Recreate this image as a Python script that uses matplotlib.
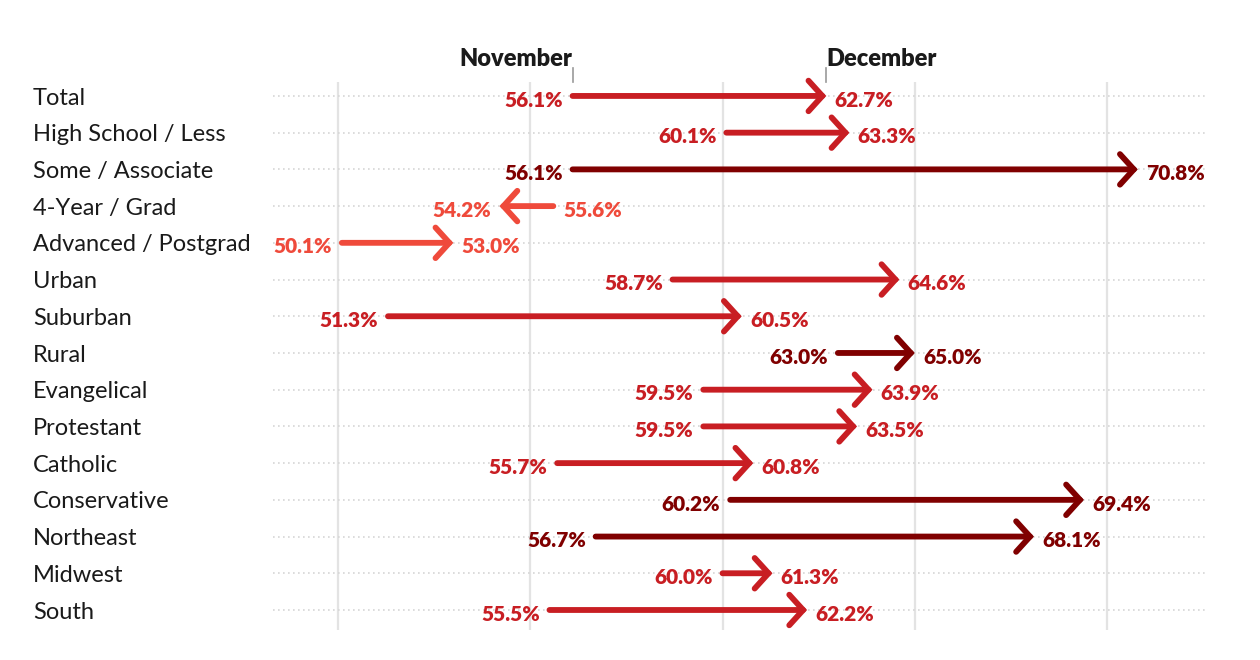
import matplotlib.pyplot as plt

groups = ["Total", "High School / Less", "Some / Associate", "4-Year / Grad",
          "Advanced / Postgrad", "Urban", "Suburban", "Rural", "Evangelical",
          "Protestant", "Catholic", "Conservative", "Northeast", "Midwest", "South"]
november = [56.1, 60.1, 56.1, 55.6, 50.1, 58.7, 51.3, 63.0, 59.5, 59.5, 55.7, 60.2, 56.7, 60.0, 55.5]
december = [62.7, 63.3, 70.8, 54.2, 53.0, 64.6, 60.5, 65.0, 63.9, 63.5, 60.8, 69.4, 68.1, 61.3, 62.2]
shade = ["mid", "mid", "dark", "light", "light", "mid", "mid", "dark", "mid",
         "mid", "mid", "dark", "dark", "mid", "mid"]
gridlines = [50, 55, 60, 65, 70]

colors = {"light": "#ef4a3b", "mid": "#c81e23", "dark": "#800000"}
font = "Lato"


def plot_arrows():
    fig = plt.figure(figsize=(12.6, 6.6), dpi=100)
    ax = fig.add_axes([273 / 1260, 1 - 630 / 660, 934 / 1260, 548 / 660])
    ax.set_xlim(48.31, 72.6)
    ax.set_ylim(14.545, -0.38)
    ax.axis("off")

    for g in gridlines:
        ax.axvline(g, color="#e3e3e3", lw=1.6, zorder=0)

    n = len(groups)
    for i in range(n):
        ax.axhline(i, color="#d6d6d6", lw=1.2, ls=(0, (1, 2)), zorder=0)
        c = colors[shade[i]]
        s, e = november[i], december[i]
        ax.annotate("", xy=(e, i), xytext=(s, i),
                    arrowprops=dict(arrowstyle="->,head_length=0.5,head_width=0.55",
                                    color=c, lw=4.2, shrinkA=0, shrinkB=0,
                                    mutation_scale=20, capstyle="round",
                                    joinstyle="miter"), zorder=3)
        up = e >= s
        ax.annotate(f"{s:.1f}%", xy=(s, i), xytext=(-7 if up else 7, -3),
                    textcoords="offset points", ha="right" if up else "left",
                    va="center", color=c, fontsize=15, fontweight="heavy",
                    family=font)
        ax.annotate(f"{e:.1f}%", xy=(e, i), xytext=(6 if up else -6, -3),
                    textcoords="offset points", ha="left" if up else "right",
                    va="center", color=c, fontsize=15, fontweight="heavy",
                    family=font)
        ax.annotate(groups[i], xy=(-240 / 934, i), xycoords=ax.get_yaxis_transform(),
                    xytext=(0, -1.5), textcoords="offset points",
                    ha="left", va="center", fontsize=17, color="#1a1a1a",
                    family=font)

    # period headers at the Total row values
    for val, name, ha in [(november[0], "November", "right"), (december[0], "December", "left")]:
        ax.plot([val, val], [-0.38, -0.76], color="#999999", lw=1.2, clip_on=False)
        ax.text(val, -1.0, name, ha=ha, va="center", fontsize=17,
                fontweight="heavy", color="#1a1a1a", family=font)

    plt.savefig("out.png", dpi=100)


if __name__ == "__main__":
    plot_arrows()
